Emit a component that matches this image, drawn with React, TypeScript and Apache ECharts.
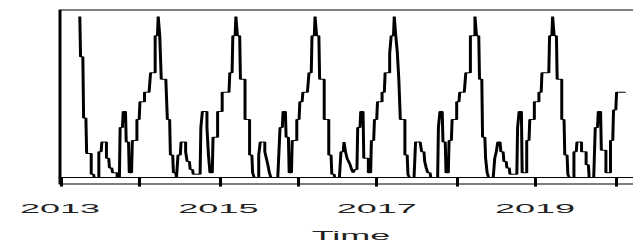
import React, { useEffect, useRef } from "react";
import * as echarts from "echarts";

// Weekly observations (52 per year); 2013 starts at week 13.
const WEEKS_PER_YEAR = 52;
const FIRST_WEEK_2013 = 13;

const v2013 = [100,75,75,37,37,15,15,15,2,2,0,0,0,16,16,22,22,22,12,12,6,6,3,3,3,0,0,31,31,41,41,22,22,3,3,23,23,23,36];
const v2014 = [36,47,47,47,53,53,53,53,65,65,65,88,88,100,88,61,61,61,61,36,36,14,14,3,3,0,14,14,22,22,22,16,10,10,5,5,2,2,2,2,2,31,41,41,41,31,14,3,3,25,25,25];
const v2015 = [41,41,41,53,53,53,53,53,65,65,88,88,100,88,88,61,61,61,36,36,36,14,14,3,0,0,0,14,22,22,22,16,12,8,3,0,0,0,0,0,10,31,31,41,41,25,25,3,3,23,23,23];
const v2016 = [36,36,47,47,53,53,53,53,65,65,88,88,100,88,88,61,61,61,36,36,36,14,14,2,2,0,0,0,0,16,16,22,16,12,10,8,5,3,5,5,31,31,41,41,12,12,12,3,3,23,23,36];
const v2017 = [36,47,47,47,53,53,65,65,65,77,88,88,100,88,78,61,36,36,36,14,14,2,0,0,0,0,22,22,22,22,16,16,10,6,3,3,0,0,0,0,0,31,41,41,22,22,3,3,23,23,36,36];
const v2018 = [36,47,47,53,53,53,53,65,65,65,88,88,88,100,88,88,61,61,25,25,12,3,0,0,0,0,12,16,22,22,16,16,10,10,6,6,2,2,2,2,2,31,41,41,3,3,3,23,23,36,36,36];
const v2019 = [47,47,47,53,53,65,65,65,65,65,88,88,100,88,88,61,61,61,36,36,14,14,2,0,0,0,16,16,22,22,22,16,16,16,8,8,0,0,0,0,31,31,41,41,17,17,17,3,3,3,23,23];
const v2020 = [42,42,53,53,53,53,53,53,53];

const yearBlocks: [number, number, number[]][] = [
  [2013, FIRST_WEEK_2013, v2013],
  [2014, 0, v2014],
  [2015, 0, v2015],
  [2016, 0, v2016],
  [2017, 0, v2017],
  [2018, 0, v2018],
  [2019, 0, v2019],
  [2020, 0, v2020],
];

const tickLabels = ["2013", "2015", "2017", "2019"];
const xTitle = "Time";
const X_MIN = 2013;
const X_MAX = 2020.35;

// The reference image is stretched horizontally; draw narrow and stretch.
const STRETCH = 3;
const CHART_W = 220;
const CHART_H = 245;

export default function App() {
  const ref = useRef<HTMLDivElement | null>(null);

  useEffect(() => {
    if (!ref.current) return;
    const chart = echarts.init(ref.current, undefined, { renderer: "svg" });

    const points: [number, number][] = [];
    yearBlocks.forEach(([year, w0, vals]) => {
      vals.forEach((v, i) => {
        points.push([year + (w0 + i) / WEEKS_PER_YEAR, v]);
      });
    });
    const ys = points.map((p) => p[1]);
    const lo = Math.min(...ys);
    const hi = Math.max(...ys);
    const pad = (hi - lo) * 0.04;

    chart.setOption({
      animation: false,
      backgroundColor: "#fff",
      grid: {
        left: 20,
        right: 6,
        top: 10,
        bottom: 61,
        containLabel: false,
        outerBoundsMode: "none",
        show: true,
        borderColor: "#000",
        borderWidth: 1,
        backgroundColor: "transparent",
      },
      xAxis: {
        type: "value",
        min: X_MIN,
        max: X_MAX,
        interval: 1,
        splitLine: { show: false },
        axisLine: { show: true, lineStyle: { color: "#000", width: 1 } },
        axisTick: { show: true, length: 9, inside: false, lineStyle: { color: "#000", width: 1 } },
        axisLabel: {
          margin: 19,
          fontSize: 12,
          color: "#222",
          fontFamily: "Liberation Sans, Arial, sans-serif",
          showMaxLabel: false,
          formatter: (v: number) => {
            const s = String(Math.round(v));
            return Math.abs(v - Math.round(v)) < 1e-6 && tickLabels.includes(s) ? s : "";
          },
        },
        name: xTitle,
        nameLocation: "middle",
        nameGap: 46,
        nameTextStyle: {
          fontSize: 12,
          color: "#222",
          fontFamily: "Liberation Sans, Arial, sans-serif",
        },
      },
      yAxis: {
        type: "value",
        min: lo - pad,
        max: hi + pad,
        axisLine: { show: false },
        axisTick: { show: false },
        axisLabel: { show: false },
        splitLine: { show: false },
      },
      series: [
        {
          type: "line",
          data: points,
          step: "middle",
          showSymbol: false,
          symbol: "none",
          lineStyle: { color: "#000", width: 1 },
          clip: true,
        },
      ],
    });

    return () => {
      chart.dispose();
    };
  }, []);

  return (
    <div
      style={{
        position: "absolute",
        left: 0,
        top: 0,
        width: 633,
        height: 245,
        overflow: "hidden",
        background: "#fff",
      }}
    >
      <div
        ref={ref}
        style={{
          width: CHART_W,
          height: CHART_H,
          transform: `scaleX(${STRETCH})`,
          transformOrigin: "0 0",
        }}
      />
    </div>
  );
}
